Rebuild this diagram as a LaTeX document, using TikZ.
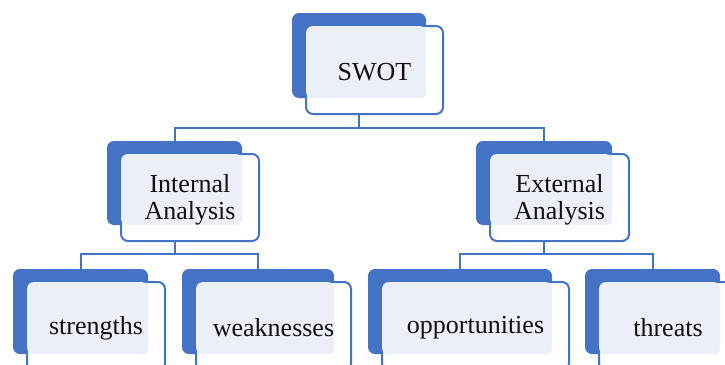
\documentclass[tikz,border=0pt]{standalone}
\usepackage{fontspec}
\setmainfont{Liberation Serif}
\definecolor{swblue}{HTML}{4472C4}
\definecolor{swpale}{HTML}{EAEFF8}
\definecolor{swtext}{HTML}{111111}
\tikzset{
  backbox/.style={fill=swblue, draw=none, rounded corners=7pt, inner sep=0pt},
  frontbox/.style={fill=white, draw=swblue, line width=2pt, rounded corners=7pt, inner sep=0pt},
  txt/.style={text=swtext, font=\rmfamily\fontsize{26}{27}\selectfont, align=center, inner sep=0pt},
  conn/.style={draw=swblue, line width=2pt},
}
\newcommand\swbox[6]{%
  \pgfmathsetmacro\bw{#4-#2}\pgfmathsetmacro\bh{#5-#3}%
  \pgfmathsetmacro\fw{#4-#2+3}\pgfmathsetmacro\fh{#5-#3+3}%
  \pgfmathsetmacro\bx{(#2+#4)/2}\pgfmathsetmacro\by{(#3+#5)/2}%
  \pgfmathsetmacro\fx{(#2+#4)/2+15.5}\pgfmathsetmacro\fy{(#3+#5)/2+14.5}%
  \node[backbox, minimum width=\bw pt, minimum height=\bh pt] (#1B) at (\bx,\by) {};
  \node[frontbox, minimum width=\fw pt, minimum height=\fh pt] (#1F) at (\fx,\fy) {};
  \fill[swpale, rounded corners=6pt] ([shift={(1.2,1.2)}]#1F.north west) rectangle (#1B.south east);
  \node[txt] (#1T) at ([yshift=-2pt]#1F.center) {#6};
}
\begin{document}
\begin{tikzpicture}[x=1pt, y=-1pt]
\useasboundingbox (0,0) rectangle (725,364);
\clip (0,0) rectangle (725,364);
\fill[white] (0,0) rectangle (725,364);
\swbox{swot}{292}{13}{426}{98}{SWOT}
\swbox{int}{107}{141}{242}{225}{Internal\\Analysis}
\swbox{ext}{476}{141}{612}{225}{External\\Analysis}
\swbox{str}{13}{269}{148}{354}{strengths}
\swbox{weak}{182}{269}{334}{354}{weaknesses}
\swbox{opp}{368}{269}{552}{354}{opportunities}
\swbox{thr}{585}{269}{720}{354}{threats}
\draw[conn] (swotB.center |- swotF.south) -- ++(0,13) -| (intB.north);
\draw[conn] (swotB.center |- swotF.south) -- ++(0,13) -| (extB.north);
\draw[conn] (intB.center |- intF.south) -- ++(0,12) -| (strB.north);
\draw[conn] (intB.center |- intF.south) -- ++(0,12) -| (weakB.north);
\draw[conn] (extB.center |- extF.south) -- ++(0,12) -| (oppB.north);
\draw[conn] (extB.center |- extF.south) -- ++(0,12) -| (thrB.north);
\end{tikzpicture}
\end{document}
